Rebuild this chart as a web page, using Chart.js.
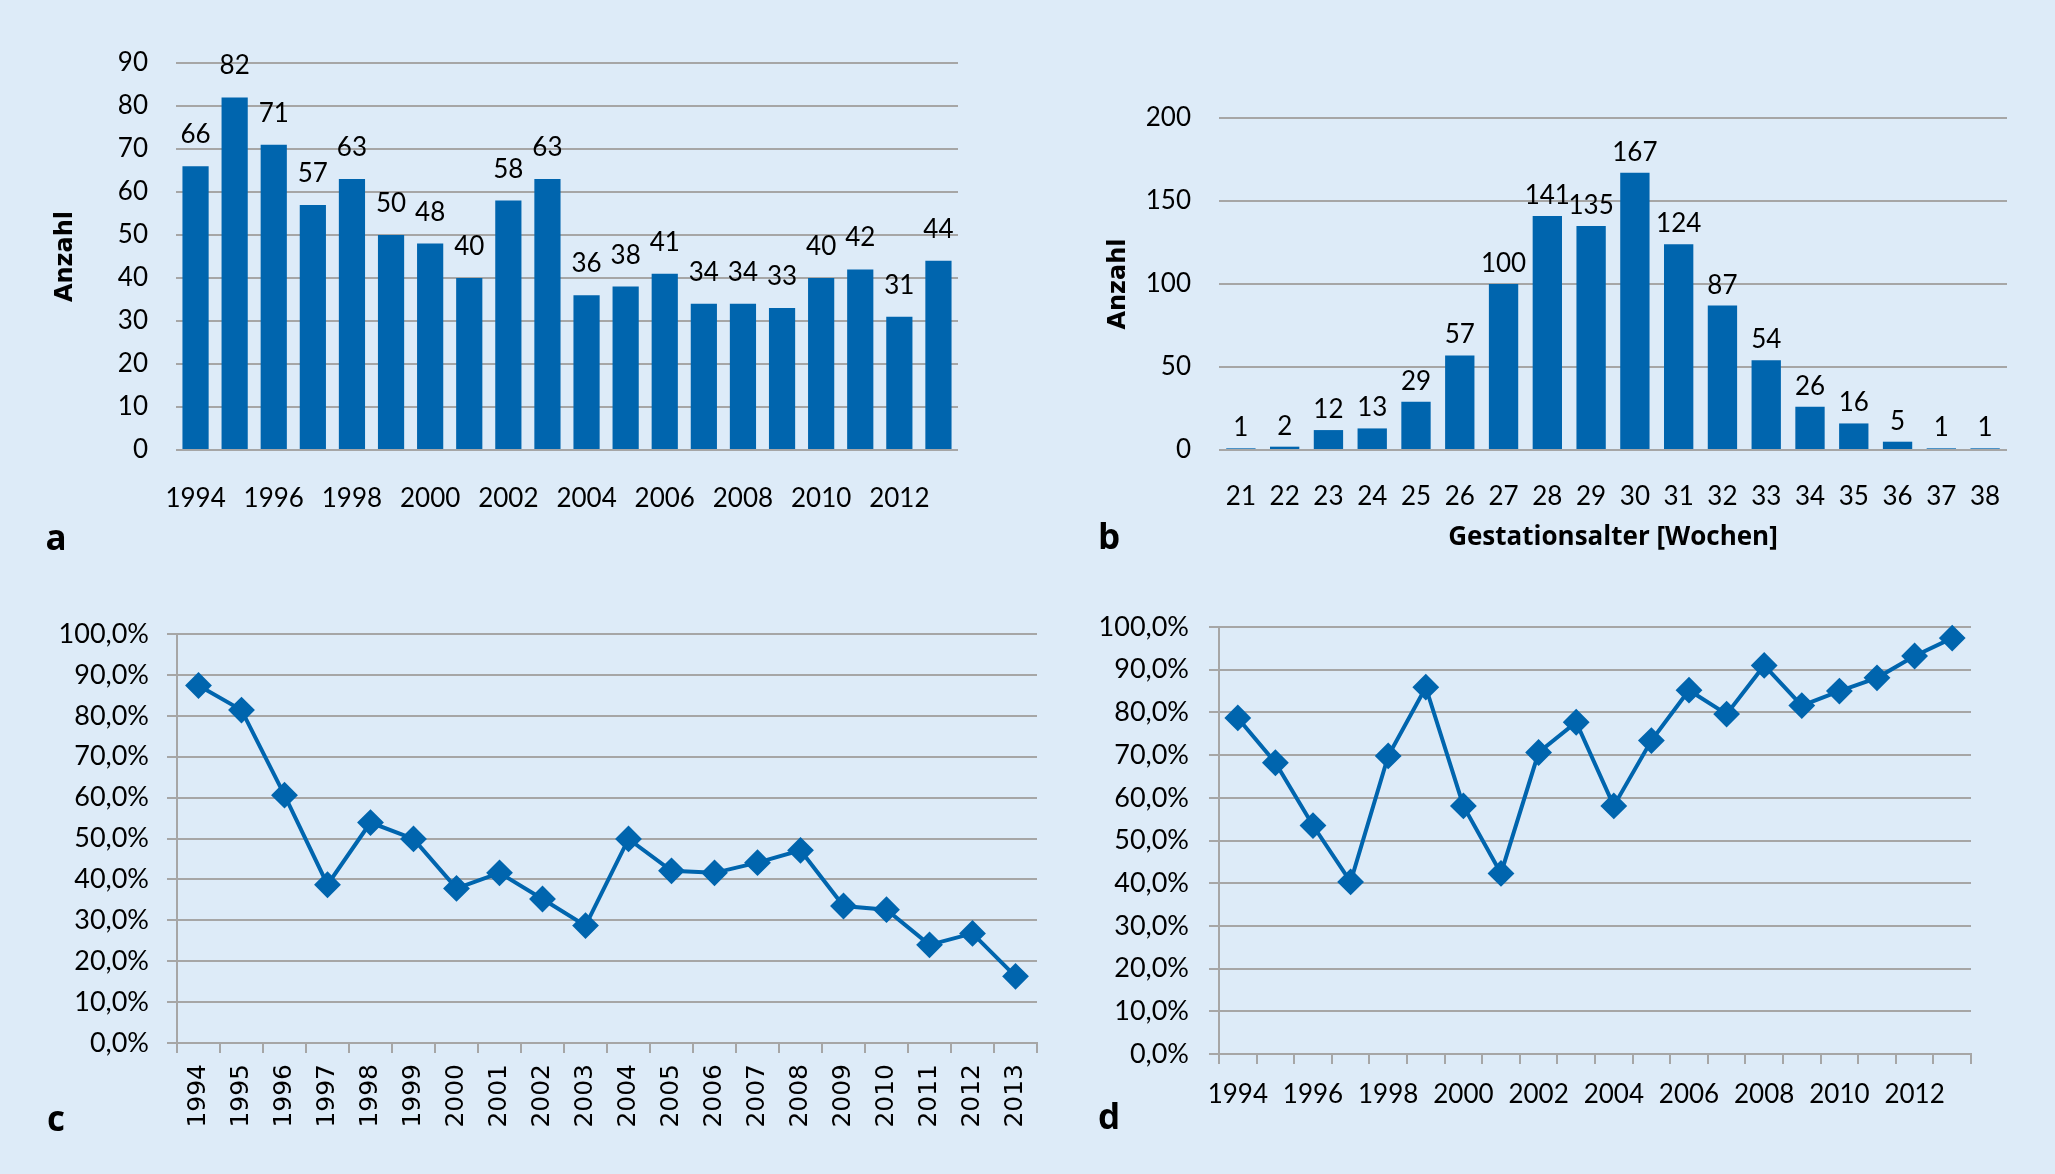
<!DOCTYPE html>
<html>
<head>
<meta charset="utf-8">
<script src="https://cdn.jsdelivr.net/npm/chart.js@4.4.1/dist/chart.umd.min.js"></script>
<style>
  html, body { margin: 0; padding: 0; }
  body { width: 2055px; height: 1174px; background: #ddebf8; position: relative; overflow: hidden; }
  .box { position: absolute; }
  .tag { position: absolute; font: bold 35px "Open Sans", sans-serif; color: #000; transform: translate(-50%, -50%); line-height: 1; }
</style>
</head>
<body>
<div class="box" style="left:0px;top:13px;width:978px;height:507px"><canvas id="ca"></canvas></div>
<div class="box" style="left:1080px;top:68px;width:947px;height:492px"><canvas id="cb"></canvas></div>
<div class="box" style="left:0px;top:584px;width:1057px;height:556px"><canvas id="cc"></canvas></div>
<div class="box" style="left:1080px;top:577px;width:911px;height:563px"><canvas id="cd"></canvas></div>
<div class="tag" style="left:56px;top:536px">a</div>
<div class="tag" style="left:1109px;top:535px">b</div>
<div class="tag" style="left:56px;top:1117px">c</div>
<div class="tag" style="left:1109px;top:1115px">d</div>
<script>
/* ─── data ─────────────────────────────────────────── */
const years = ['1994','1995','1996','1997','1998','1999','2000','2001','2002','2003',
               '2004','2005','2006','2007','2008','2009','2010','2011','2012','2013'];
const countsPerYear = [66, 82, 71, 57, 63, 50, 48, 40, 58, 63, 36, 38, 41, 34, 34, 33, 40, 42, 31, 44];

const weeks = ['21','22','23','24','25','26','27','28','29','30','31','32','33','34','35','36','37','38'];
const countsPerWeek = [1, 2, 12, 13, 29, 57, 100, 141, 135, 167, 124, 87, 54, 26, 16, 5, 1, 1];

const shareC = [87.4, 81.4, 60.6, 38.7, 53.9, 49.9, 37.8, 41.6, 35.2, 28.7,
                49.9, 42.1, 41.6, 44.1, 47.1, 33.5, 32.6, 24.0, 26.8, 16.3];
const shareD = [78.7, 68.2, 53.5, 40.3, 69.8, 85.9, 58.1, 42.3, 70.6, 77.7,
                58.1, 73.4, 85.2, 79.6, 91.0, 81.6, 85.0, 88.1, 93.2, 97.4];

/* ─── styles ───────────────────────────────────────── */
const BLUE = '#0065ae';
const GRID = '#a6a6a6';
const NUM_FONT = { family: 'Lato', size: 26 };
const PCT_FONT = { family: 'Lato', size: 27 };
const AXIS_TITLE_FONT = { family: 'DejaVu Sans', size: 24, weight: 'bold' };

Chart.defaults.font.family = 'Lato';
Chart.defaults.font.size = 26;
Chart.defaults.color = '#000';
Chart.defaults.animation = false;
Chart.defaults.responsive = true;
Chart.defaults.maintainAspectRatio = false;
Chart.defaults.plugins.legend.display = false;
Chart.defaults.plugins.tooltip.enabled = false;

// top padding is larger than half a tick label + tick padding, so the plot top is exact
const PAD = { top: 50, right: 20, left: 0, bottom: 0 };

const fixWidth  = w => s => { s.width = w; };
const fixHeight = h => s => { s.height = h; };
const pct = v => v.toFixed(1).replace('.', ',') + '%';
const allOf = labels => (val, i) => labels[i];
const everyOther = labels => (val, i) => (i % 2 === 0 ? labels[i] : '');

// value labels above bars
const barLabels = {
  id: 'barLabels',
  afterDatasetsDraw(chart, args, opts) {
    const { ctx } = chart;
    const ds = chart.data.datasets[0];
    ctx.save();
    ctx.font = `${NUM_FONT.size}px ${NUM_FONT.family}`;
    ctx.fillStyle = '#000';
    ctx.textAlign = 'center';
    ctx.textBaseline = 'alphabetic';
    chart.getDatasetMeta(0).data.forEach((bar, i) => {
      ctx.fillText(String(ds.data[i]), bar.x, bar.y - opts.gap);
    });
    ctx.restore();
  },
};

function barChart(id, labels, data, opt) {
  return new Chart(document.getElementById(id), {
    type: 'bar',
    data: {
      labels,
      datasets: [{ data, backgroundColor: BLUE, categoryPercentage: 1, barPercentage: 0.67 }],
    },
    options: {
      layout: { padding: PAD },
      plugins: { barLabels: { gap: opt.gap } },
      scales: {
        x: {
          grid: { display: false },
          border: { display: false },
          ticks: { autoSkip: false, maxRotation: 0, padding: opt.xPad, font: NUM_FONT, callback: opt.xCb },
          title: opt.xTitle || { display: false },
          afterFit: fixHeight(opt.xH),
        },
        y: {
          min: 0, max: opt.max,
          ticks: { stepSize: opt.step, padding: opt.yPad, font: NUM_FONT },
          grid: { color: GRID, lineWidth: 2, drawTicks: false },
          border: { display: false },
          title: { display: true, text: 'Anzahl', font: AXIS_TITLE_FONT, padding: { top: opt.titlePad, bottom: 0 } },
          afterFit: fixWidth(opt.yW),
        },
      },
    },
    plugins: [barLabels],
  });
}

function lineChart(id, data, opt) {
  return new Chart(document.getElementById(id), {
    type: 'line',
    data: {
      labels: years,
      datasets: [{
        data,
        borderColor: BLUE,
        borderWidth: 4,
        pointStyle: 'rectRot',
        pointRadius: 12,
        pointBackgroundColor: BLUE,
        pointBorderColor: BLUE,
        pointBorderWidth: 2,
        tension: 0,
        clip: false,
      }],
    },
    options: {
      layout: { padding: PAD },
      scales: {
        x: {
          offset: true,
          grid: { display: true, offset: true, drawOnChartArea: false, tickLength: 10, color: GRID, lineWidth: 2 },
          border: { display: true, color: GRID, width: 2 },
          ticks: opt.xTicks,
          afterFit: fixHeight(opt.xH),
        },
        y: {
          min: 0, max: 100,
          ticks: { stepSize: 10, padding: opt.yPad, font: PCT_FONT, callback: pct },
          grid: { color: GRID, lineWidth: 2, tickLength: 10 },
          border: { display: true, color: GRID, width: 2 },
          afterFit: fixWidth(opt.yW),
        },
      },
    },
  });
}

/* ─── panels ───────────────────────────────────────── */
barChart('ca', years, countsPerYear, {
  max: 90, step: 10, gap: 23, xPad: 25, yPad: 28, xH: 70, yW: 176, titlePad: 51,
  xCb: everyOther(years),
});

barChart('cb', weeks, countsPerWeek, {
  max: 200, step: 50, gap: 12, xPad: 23, yPad: 28, xH: 110, yW: 139, titlePad: 24,
  xCb: allOf(weeks),
  xTitle: {
    display: true, text: 'Gestationsalter [Wochen]',
    font: { family: 'Open Sans', size: 26, weight: 'bold' },
    padding: { top: 0, bottom: 7 },
  },
});

lineChart('cc', shareC, {
  xH: 97, yW: 177, yPad: 18,
  xTicks: { autoSkip: false, minRotation: 90, maxRotation: 90, padding: 11, font: { family: 'DejaVu Sans', size: 25 } },
});

lineChart('cd', shareD, {
  xH: 86, yW: 139, yPad: 20,
  xTicks: { autoSkip: false, maxRotation: 0, padding: 15, font: NUM_FONT, callback: everyOther(years) },
});
</script>
</body>
</html>
